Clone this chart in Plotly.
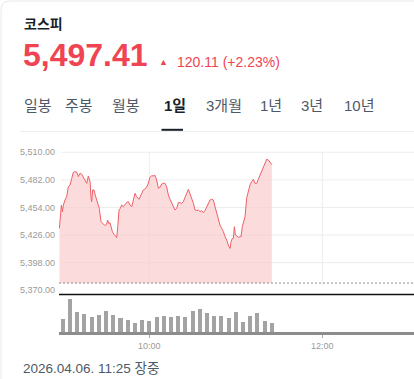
import plotly.graph_objects as go

W, H = 414, 379

# ---------------- data ----------------
title = "코스피"
last_price = 5497.41
change = 120.11
change_pct = 2.23
tabs = ["일봉", "주봉", "월봉", "1일", "3개월", "1년", "3년", "10년"]
active_tab = "1일"
timestamp_text = "2026.04.06. 11:25 장중"

# minutes after 09:00
price_times = [-2.4, -1.5, -1.0, -0.3, 0.4, 1.5, 2.7, 3.8, 5.0, 6.2, 7.3, 8.5, 9.6, 10.8, 11.9, 13.1,
               14.2, 15.4, 16.6, 17.7, 18.9, 19.6, 20.0, 20.7, 21.6, 22.8, 24.0, 25.3, 26.5, 27.6, 28.8,
               29.7, 30.4, 31.1, 31.8, 32.7, 33.4, 34.4, 35.5, 36.7, 37.4, 38.1, 39.0, 39.9, 40.8, 42.0,
               43.1, 44.3, 45.5, 46.6, 47.8, 48.9, 50.1, 51.2, 52.9, 54.2, 55.9, 57.5, 58.9, 60.5, 61.6,
               62.8, 63.9, 65.1, 66.3, 67.4, 68.6, 69.7, 70.9, 72.0, 73.2, 74.4, 75.5, 76.7, 77.8, 79.0,
               80.1, 81.3, 82.4, 83.6, 84.8, 85.9, 87.1, 88.2, 89.4, 90.6, 91.7, 92.9, 94.0, 95.2, 96.3,
               97.5, 98.6, 99.8, 101.0, 102.1, 103.3, 104.4, 105.6, 106.7, 107.9, 109.0, 110.2, 111.4,
               112.5, 113.7, 114.8, 116.0, 116.7, 117.6, 118.3, 119.0, 119.7, 120.6, 121.8, 122.9, 123.6,
               124.5, 125.7, 126.4, 127.5, 128.7, 129.8, 131.0, 132.2, 133.3, 134.5, 135.6, 136.8, 137.9,
               139.1, 140.3, 141.4, 142.6, 143.7, 145.0]
prices = [5432.8, 5454.8, 5456.5, 5449.8, 5456.5, 5461.6, 5465.0, 5475.1, 5476.8, 5483.6, 5489.7, 5490.4,
          5490.0, 5485.3, 5488.7, 5487.7, 5484.3, 5481.9, 5478.5, 5486.0, 5480.2, 5463.3, 5459.9, 5471.8,
          5471.8, 5465.0, 5459.9, 5453.1, 5439.6, 5437.9, 5436.2, 5435.9, 5437.2, 5441.3, 5437.9, 5438.6,
          5434.5, 5429.5, 5426.8, 5424.4, 5423.4, 5434.5, 5451.5, 5453.1, 5456.5, 5454.8, 5457.5, 5459.2,
          5459.9, 5456.5, 5454.8, 5462.3, 5468.4, 5465.0, 5462.3, 5466.7, 5471.8, 5473.5, 5476.8, 5484.6,
          5486.3, 5486.0, 5486.7, 5481.9, 5473.5, 5474.5, 5477.9, 5478.5, 5478.5, 5475.1, 5466.7, 5462.3,
          5458.2, 5454.8, 5451.5, 5453.1, 5458.9, 5458.9, 5458.2, 5459.9, 5465.0, 5468.4, 5472.4, 5468.4,
          5463.3, 5458.2, 5451.5, 5450.8, 5451.5, 5449.8, 5450.8, 5448.7, 5450.8, 5454.8, 5458.2, 5461.6,
          5462.3, 5461.6, 5454.8, 5448.1, 5441.3, 5436.2, 5432.8, 5429.5, 5424.4, 5421.0, 5415.9, 5412.5,
          5419.3, 5422.7, 5422.7, 5434.5, 5426.1, 5425.1, 5423.7, 5424.4, 5424.4, 5434.5, 5441.3, 5444.7,
          5463.3, 5471.8, 5476.8, 5480.2, 5482.6, 5478.5, 5478.5, 5482.6, 5487.0, 5490.4, 5495.5, 5498.8,
          5502.9, 5502.2, 5500.5, 5497.41]

volume_times = list(range(0, 150, 5))  # 5-minute bars from 09:00
volumes = [127, 327, 200, 177, 147, 167, 207, 170, 140, 120, 93, 117, 110, 153, 163,
           150, 163, 147, 207, 227, 187, 157, 157, 143, 203, 103, 157, 187, 107, 93]

y_ticks = [5510, 5482, 5454, 5426, 5398, 5370]
x_tick_vals = [60, 180]
x_tick_text = ["10:00", "12:00"]

prev_close = round(last_price - change, 2)

# ---------------- styles ----------------
RED = "#f04452"
LINE_RED = "#ef6068"
FILL = "rgba(250,200,203,0.65)"
GRID = "#ededed"
TEXT_DARK = "#191f28"
TEXT_GREY = "#4e5968"
AXIS_GREY = "#9a9a9a"
LAT = "Liberation Sans, Noto Sans CJK KR, sans-serif"
KR = "Noto Sans CJK KR, sans-serif"


def px(x):
    return x / W


def py(y):
    return 1 - y / H


x_left = 59
x_range = [-2.65, (W - 62.8) / 1.4417]
y_range = [5365.2, 5517.4]

fig = go.Figure()

# baseline for fill at previous close
fig.add_trace(go.Scatter(x=[price_times[0], price_times[-1]], y=[prev_close, prev_close],
                         mode="lines", line=dict(width=0), hoverinfo="skip", showlegend=False,
                         xaxis="x", yaxis="y"))
fig.add_trace(go.Scatter(x=price_times, y=prices, mode="lines",
                         line=dict(color=LINE_RED, width=1.0), fill="tonexty", fillcolor=FILL,
                         showlegend=False, xaxis="x", yaxis="y"))
fig.add_trace(go.Bar(x=volume_times, y=volumes, width=2.8, marker=dict(color="#a3a3a3", line=dict(width=0)),
                     showlegend=False, xaxis="x", yaxis="y2"))

shapes = []
# horizontal grid lines
for v in y_ticks[:-1]:
    shapes.append(dict(type="line", xref="paper", yref="y", x0=px(61), x1=1, y0=v, y1=v,
                       line=dict(color=GRID, width=1), layer="below"))
# vertical grid lines in price area
for t in x_tick_vals:
    shapes.append(dict(type="line", xref="x", yref="y", x0=t, x1=t, y0=prev_close - 1.5, y1=y_ticks[0],
                       line=dict(color=GRID, width=1), layer="below"))
# previous close dashed line
shapes.append(dict(type="line", xref="paper", yref="y", x0=px(x_left), x1=1, y0=prev_close, y1=prev_close,
                   line=dict(color="#8a8a8a", width=1, dash="2px,2px")))
# black separator line
shapes.append(dict(type="line", xref="paper", yref="paper", x0=px(x_left), x1=1, y0=py(294.5), y1=py(294.5),
                   line=dict(color="#111111", width=1.6)))
# tab divider and underline
shapes.append(dict(type="line", xref="paper", yref="paper", x0=px(20), x1=1, y0=py(131.5), y1=py(131.5),
                   line=dict(color="#eceef0", width=1)))
shapes.append(dict(type="line", xref="paper", yref="paper", x0=px(161.5), x1=px(183), y0=py(129.8), y1=py(129.8),
                   line=dict(color=TEXT_DARK, width=2)))
# card border
shapes.append(dict(type="path", xref="paper", yref="paper",
                   path=f"M {px(1)},{py(379)} L {px(1)},{py(10)} Q {px(1)},{py(1)} {px(10)},{py(1)} L 1,{py(1)}",
                   line=dict(color="#e6e8ea", width=1)))

annotations = [
    dict(text=title, x=px(22), y=py(22.5), xanchor="left", yanchor="middle",
         font=dict(family=KR, size=14, color=TEXT_DARK, weight=600)),
    dict(text=f"{last_price:,.2f}", x=px(20.5), y=py(55), xanchor="left", yanchor="middle",
         font=dict(family=LAT, size=32, color=RED, weight="bold")),
    dict(text="▲", x=px(163.5), y=py(61.5), xanchor="center", yanchor="middle",
         font=dict(family=LAT, size=9, color=RED)),
    dict(text=f"{change:,.2f} (+{change_pct:.2f}%)", x=px(174.5), y=py(62), xanchor="left", yanchor="middle",
         font=dict(family=LAT, size=14, color=RED)),
    dict(text=timestamp_text, x=px(20.5), y=py(368.5), xanchor="left", yanchor="middle",
         font=dict(family=LAT, size=13.5, color=TEXT_GREY)),
]
tab_x = [21.5, 63, 110, 162, 204, 258, 299, 342]
for tx, t in zip(tab_x, tabs):
    active = t == active_tab
    annotations.append(dict(text=t, x=px(tx), y=py(105), xanchor="left", yanchor="middle",
                            font=dict(family=LAT, size=15, color=TEXT_DARK if active else TEXT_GREY,
                                      weight="bold" if active else "normal")))

fig.update_layout(
    width=W, height=H,
    margin=dict(l=0, r=0, t=0, b=0),
    paper_bgcolor="white", plot_bgcolor="white",
    showlegend=False, bargap=0,
    xaxis=dict(domain=[px(x_left), 1], range=x_range, anchor="y2",
               tickvals=x_tick_vals, ticktext=x_tick_text, showgrid=False, zeroline=False,
               showline=True, linecolor="#8c8c8c", linewidth=2.5,
               ticks="outside", ticklen=3, tickcolor="#aaaaaa", tickwidth=1,
               tickfont=dict(family=LAT, size=9, color=AXIS_GREY)),
    yaxis=dict(domain=[py(295), py(145)], range=y_range, anchor="x",
               tickvals=y_ticks, tickformat=",.2f", showgrid=False, zeroline=False,
               showline=False, ticks="", ticklabelstandoff=3,
               tickfont=dict(family=LAT, size=9, color=AXIS_GREY)),
    yaxis2=dict(domain=[py(332), py(296)], range=[0, 360], anchor="x", visible=False),
    shapes=shapes,
    annotations=annotations,
)
for a in fig.layout.annotations:
    a.update(xref="paper", yref="paper", showarrow=False)

fig.write_html("out.html")
